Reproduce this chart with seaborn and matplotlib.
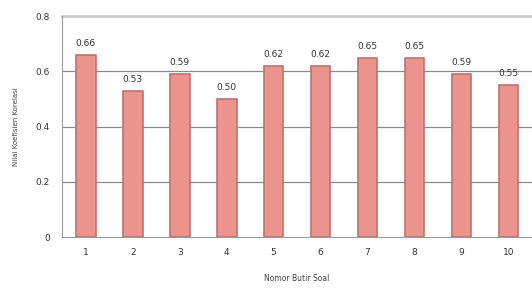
import numpy as np
import pandas as pd
import matplotlib
matplotlib.use("Agg")
import matplotlib.pyplot as plt
import seaborn as sns

# --------------------------------------------------------------
# Data
# --------------------------------------------------------------

butir = ["1", "2", "3", "4", "5", "6", "7", "8", "9", "10"]
nilai = [0.66, 0.53, 0.59, 0.50, 0.62, 0.62, 0.65, 0.65, 0.59, 0.55]
y_ticks = [0, 0.2, 0.4, 0.6, 0.8]
y_tick_labels = ["0", "0.2", "0.4", "0.6", "0.8"]

df = pd.DataFrame({"butir": butir, "nilai": nilai})

# --------------------------------------------------------------
# Plot
# --------------------------------------------------------------

sns.set_style("white")
plt.rcParams["font.family"] = ["DejaVu Sans"]

fig = plt.figure(figsize=(5.32, 2.93), dpi=100)
ax = fig.add_axes([0.117, 0.191, 0.883, 0.754])

sns.barplot(
    data=df,
    x="butir",
    y="nilai",
    color="#EC938D",
    saturation=1,
    edgecolor="#BE736E",
    linewidth=1.2,
    width=0.42,
    ax=ax,
)

ax.bar_label(
    ax.containers[0],
    fmt="%.2f",
    padding=5,
    fontsize=6.5,
    color="#333333",
)

ax.set_ylim(0, 0.8)
ax.set_xlim(-0.5, 9.47)
ax.set_yticks(y_ticks)
ax.set_yticklabels(y_tick_labels)

# gridlines (the top one is lighter, like a frame)
for y in y_ticks[1:-1]:
    ax.axhline(y, color="#8a8a8a", linewidth=0.9, zorder=0)
ax.axhline(0.8, color="#cccccc", linewidth=2, zorder=0, clip_on=False)

for side in ["right", "top"]:
    ax.spines[side].set_visible(False)
ax.spines["left"].set_color("#9a9a9a")
ax.spines["bottom"].set_color("#9a9a9a")

# tick marks between categories
ax.set_xticks(np.arange(-0.5, 10, 1), minor=True)
ax.tick_params(axis="x", which="major", length=0, pad=8, labelsize=6.5, labelcolor="#333333")
ax.tick_params(axis="x", which="minor", length=3, color="#9a9a9a", direction="out")
ax.tick_params(axis="y", length=3, color="#9a9a9a", labelsize=6.5, labelcolor="#333333", pad=6)

ax.set_xlabel("Nomor Butir Soal", fontsize=5.5, color="#444444", labelpad=12)
ax.set_ylabel("Nilai Koefisien Korelasi", fontsize=5, color="#444444", labelpad=12)

fig.savefig("out.png", dpi=100)
